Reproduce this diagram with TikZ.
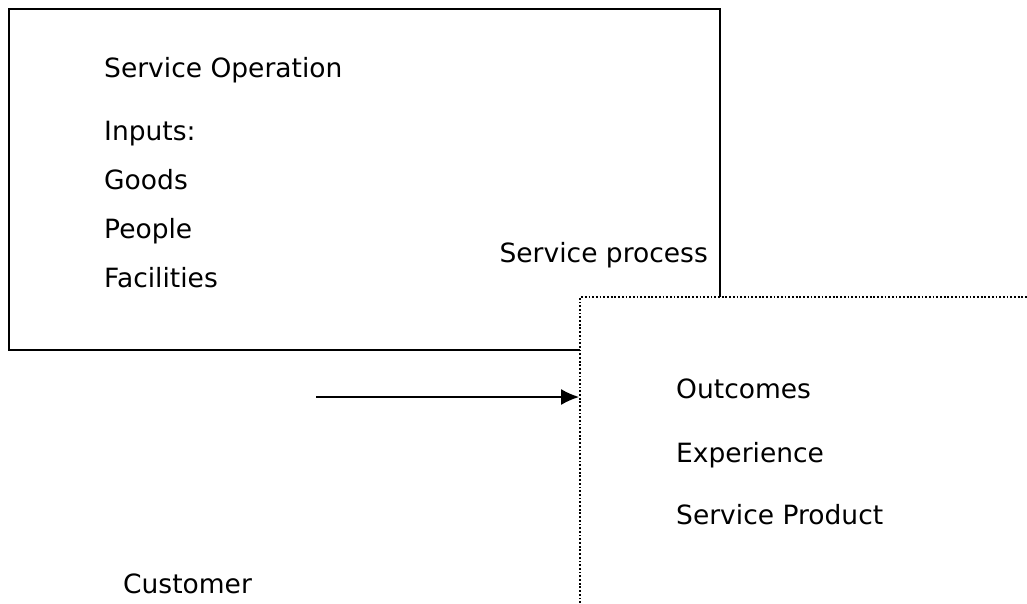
\documentclass[tikz,border=0pt]{standalone}
\usepackage{fontspec}
\setmainfont{DejaVu Sans}
\usetikzlibrary{arrows.meta}
\begin{document}
\begin{tikzpicture}[x=1pt,y=-1pt,
  txt/.style={anchor=base west,inner sep=0pt,font=\fontsize{26.5}{30}\selectfont},
  opbox/.style={draw,line width=1.5pt},
  outbox/.style={draw,line width=1.8pt,dash pattern=on 1.8pt off 1.9pt},
  flow/.style={line width=1.4pt,-{Latex[length=18pt,width=16pt]}}]
\useasboundingbox (0,0) rectangle (1027,603);
% service operation box
\draw[opbox] (9,9) rectangle (720,350);
\node[txt] (op) at (104,77) {Service Operation};
\node[txt] (inp) at (104,140) {Inputs:};
\node[txt] (goods) at (104,189) {Goods};
\node[txt] (people) at (104,238) {People};
\node[txt] (fac) at (104,287) {Facilities};
\node[txt,anchor=base east] (proc) at (708,262) {Service process};
% outcome box, open to the right and bottom
\fill[white] (580,297) rectangle (1027,603);
\draw[outbox] (580,603) -- (580,297) -- (1027,297);
\node[txt] (outc) at (676,398) {Outcomes};
\node[txt] (exp) at (676,462) {Experience};
\node[txt] (prod) at (676,524) {Service Product};
\node[txt] (cust) at (123,593) {Customer};
% flow from customer into the outcome box
\coordinate (src) at (316,397);
\coordinate (dst) at (579,397);
\draw[flow] (src) -- (dst);
\end{tikzpicture}
\end{document}
